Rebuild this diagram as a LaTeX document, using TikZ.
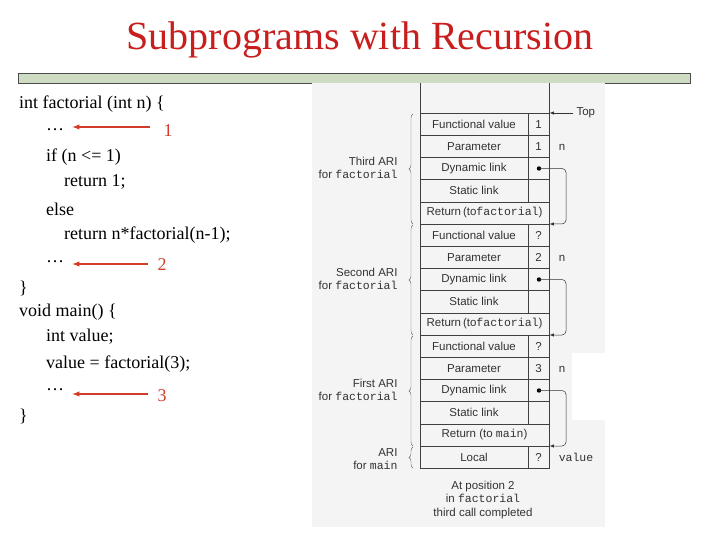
\documentclass[tikz,border=0pt]{standalone}
\usepackage{fontspec}
\setmainfont{Liberation Serif}
\setsansfont{Liberation Sans}
\setmonofont{Liberation Mono}
\usetikzlibrary{decorations.pathreplacing}
\definecolor{titlered}{RGB}{200,30,30}
\definecolor{arrred}{RGB}{210,60,40}
\definecolor{panel}{RGB}{244,244,244}
\definecolor{barfill}{RGB}{205,220,195}
\def\nocell{-}
\begin{document}
\begin{tikzpicture}[x=1pt,y=-1pt,
  code/.style={anchor=west, font=\fontsize{18}{20}\selectfont, inner sep=0pt},
  cell/.style={font=\sffamily\fontsize{11.5}{13}\selectfont, text=black!80},
  side/.style={font=\ttfamily\fontsize{11.5}{13}\selectfont, text=black!80},
  ari/.style={font=\sffamily\fontsize{11.5}{13}\selectfont, align=right, anchor=east, text=black!80},
  redarrow/.style={->, >=latex, arrred, line width=1.4pt},
  link/.style={->, >=latex, black!80, line width=0.5pt, rounded corners=4pt}]
  \useasboundingbox (0,0) rectangle (720,540);
  \fill[white] (0,0) rectangle (720,540);

  % Title and bar
  \node[titlered, font=\fontsize{40}{42}\selectfont] (title) at (360,40) {Subprograms with Recursion};
  \draw[black!70, fill=barfill] (18,73) rectangle (690,83);

  % Code
  \node[code] (c1) at (19,104) {int factorial (int n) \{};
  \node[code] (c2) at (46,130) {\dots};
  \node[code] (c3) at (46,157) {if (n <= 1)};
  \node[code] (c4) at (64,182) {return 1;};
  \node[code] (c5) at (46,209) {else};
  \node[code] (c6) at (64,235) {return n*factorial(n-1);};
  \node[code] (c7) at (46,262) {\dots};
  \node[code] (c8) at (19,288) {\}};
  \node[code] (c9) at (19,312) {void main() \{};
  \node[code] (c10) at (46,337) {int value;};
  \node[code] (c11) at (46,364) {value = factorial(3);};
  \node[code] (c12) at (46,390) {\dots};
  \node[code] (c13) at (19,416) {\}};

  % Position markers
  \node[arrred, font=\fontsize{18}{20}\selectfont] (p1) at (168,131) {1};
  \node[arrred, font=\fontsize{18}{20}\selectfont] (p2) at (162,265) {2};
  \node[arrred, font=\fontsize{18}{20}\selectfont] (p3) at (162,396) {3};
  \draw[redarrow] (150,127) -- ([xshift=8pt]c2.east |- 0,127);
  \draw[redarrow] (148,264) -- ([xshift=8pt]c7.east |- 0,264);
  \draw[redarrow] (148,394) -- ([xshift=8pt]c12.east |- 0,394);

  % Stack panel
  \fill[panel] (312,83) rectangle (605,527);
  \fill[white] (572,353) rectangle (605,420);
  \draw[black!75, line width=0.5pt] (420,83) -- (420,468) -- (549,468) -- (549,83);
  \foreach \name/\val [count=\i from 0] in {
      Functional value/1, Parameter/1, Dynamic link/, Static link/, {Return\,(to\texttt{factorial})}/-,
      Functional value/?, Parameter/2, Dynamic link/, Static link/, {Return\,(to\texttt{factorial})}/-,
      Functional value/?, Parameter/3, Dynamic link/, Static link/, {Return (to \texttt{main})}/-,
      Local/?} {
    \pgfmathsetmacro{\ytop}{113+22.2*\i}
    \draw[black!75, line width=0.5pt] (420,\ytop) -- (549,\ytop);
    \ifx\val\nocell
      \node[cell] (r\i) at (484.5,\ytop+11.1) {\name};
    \else
      \draw[black!75, line width=0.5pt] (528,\ytop) -- (528,\ytop+22.2);
      \node[cell] (r\i) at (474,\ytop+11.1) {\name};
      \node[cell] (v\i) at (538.5,\ytop+11.1) {\val};
    \fi
  }

  % Dynamic links
  \foreach \i in {2,7,12} {
    \pgfmathsetmacro{\yd}{113+22.2*\i+11.1}
    \pgfmathsetmacro{\yr}{113+22.2*(\i+3)}
    \fill[black] (539,\yd) circle (2.2);
    \draw[link] (539,\yd) -- (566,\yd) -- (566,\yr) -- (549.5,\yr);
  }

  % Top pointer and side names
  \coordinate (toptip) at (549.5,113);
  \node[cell, anchor=west] (top) at (573,113) {Top};
  \draw[link] (top.west) -- (toptip);
  \node[side] (n1) at (562,147) {n};
  \node[side] (n2) at (562,258) {n};
  \node[side] (n3) at (562,369) {n};
  \node[side] (val) at (576,457) {value};

  % Braces
  \draw[decorate, decoration={brace, amplitude=4pt}, black!60] (413,224) -- (413,114);
  \draw[decorate, decoration={brace, amplitude=4pt}, black!60] (413,335) -- (413,225);
  \draw[decorate, decoration={brace, amplitude=4pt}, black!60] (413,446) -- (413,336);
  \draw[decorate, decoration={brace, amplitude=4pt}, black!60] (413,468) -- (413,447);
  \node[ari] (a3) at (401,168) {Third ARI\\for \texttt{factorial}};
  \node[ari] (a2) at (401,279) {Second ARI\\for \texttt{factorial}};
  \node[ari] (a1) at (401,390) {First ARI\\for \texttt{factorial}};
  \node[ari] (a0) at (401,459) {ARI\\for \texttt{main}};

  % Caption
  \node[cell, align=center] (cap) at (483,500) {At position 2\\in \texttt{factorial}\\[1pt]third call completed};
\end{tikzpicture}
\end{document}
